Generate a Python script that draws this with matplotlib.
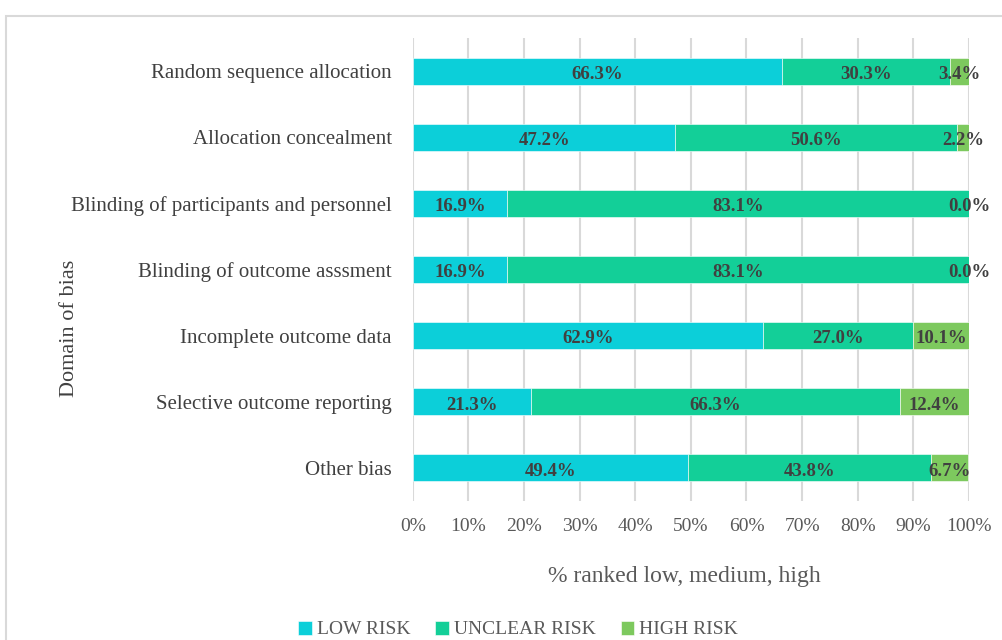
import matplotlib.pyplot as plt
from matplotlib.patches import Rectangle

domains = ["Random sequence allocation", "Allocation concealment",
           "Blinding of participants and personnel", "Blinding of outcome asssment",
           "Incomplete outcome data", "Selective outcome reporting", "Other bias"]
low_risk = [66.3, 47.2, 16.9, 16.9, 62.9, 21.3, 49.4]
unclear_risk = [30.3, 50.6, 83.1, 83.1, 27.0, 66.3, 43.8]
high_risk = [3.4, 2.2, 0.0, 0.0, 10.1, 12.4, 6.7]

series = [("LOW RISK", low_risk, "#0ccfd9"),
          ("UNCLEAR RISK", unclear_risk, "#13cf98"),
          ("HIGH RISK", high_risk, "#7dc95e")]

plt.rcParams["font.family"] = ["Liberation Serif", "DejaVu Serif"]

fig = plt.figure(figsize=(10.02, 6.4), dpi=100)
ax = fig.add_axes([0.412, 0.2172, 0.555, 0.7234])

# outer gray frame
fig.patches.append(Rectangle((0.006, -0.1), 1.1, 1.075, transform=fig.transFigure,
                             fill=False, edgecolor="#d9d9d9", linewidth=1.5))

ypos = list(range(len(domains)))
left = [0.0] * len(domains)
for name, vals, col in series:
    ax.barh(ypos, vals, left=left, height=0.41, color=col, label=name,
            edgecolor="white", linewidth=0.4, zorder=3)
    for y, l, v in zip(ypos, left, vals):
        ax.text(l + v / 2, y + 0.05, f"{v:.1f}%", ha="center", va="center",
                fontsize=13.5, fontweight="bold", color="#404040", zorder=4)
    left = [a + b for a, b in zip(left, vals)]

ax.set_xlim(0, 100)
ax.set_ylim(len(domains) - 0.5, -0.5)
ax.set_yticks(ypos)
ax.set_yticklabels(domains, fontsize=15, color="#404040")
ax.set_xticks(range(0, 101, 10))
ax.set_xticklabels([f"{t}%" for t in range(0, 101, 10)], fontsize=14, color="#595959")
ax.tick_params(length=0)
ax.tick_params(axis="x", pad=12)
ax.tick_params(axis="y", pad=15)
ax.grid(axis="x", color="#d9d9d9", linewidth=1.5, zorder=0)
for s in ax.spines.values():
    s.set_visible(False)

ax.set_xlabel("% ranked low, medium, high", fontsize=17, color="#595959")
ax.xaxis.label.set_va("center")
ax.xaxis.set_label_coords((684 - 413) / 556, -(577 - 501) / 463)
fig.text(70 / 1002, 1 - 328 / 640, "Domain of bias", rotation=90, ha="center", va="center",
         fontsize=16, color="#404040")

fig.legend(loc="lower center", bbox_to_anchor=(0.517, -0.025), ncol=3, frameon=False,
           fontsize=14, handlelength=0.7, handleheight=0.7, handletextpad=0.25,
           columnspacing=1.3, labelcolor="#595959")

fig.savefig("out.png", dpi=100)
